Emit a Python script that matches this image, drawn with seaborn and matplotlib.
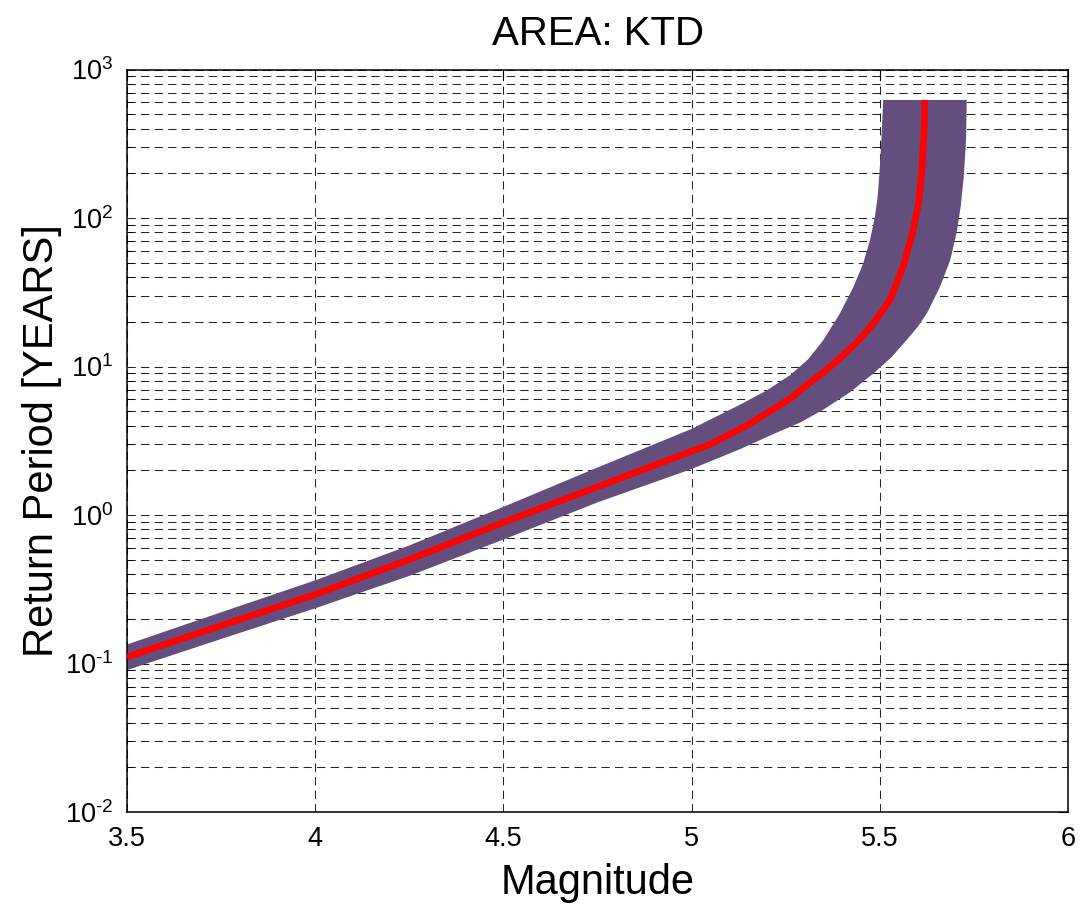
import numpy as np
import pandas as pd
import matplotlib
matplotlib.use("Agg")
import matplotlib.pyplot as plt
import seaborn as sns
from matplotlib.ticker import LogLocator, FixedLocator, FuncFormatter

# ---- data ----
title = "AREA: KTD"
x_label = "Magnitude"
y_label = "Return Period [YEARS]"
x_ticks = [3.5, 4, 4.5, 5, 5.5, 6]
x_tick_labels = ["3.5", "4", "4.5", "5", "5.5", "6"]

# central curve (red): magnitude, log10(return period)
mean_mag = [3.50, 3.75, 4.00, 4.25, 4.50, 4.75, 4.88, 5.05, 5.146, 5.208, 5.26,
            5.306, 5.35, 5.394, 5.44, 5.483, 5.527, 5.562, 5.587, 5.603, 5.611,
            5.617, 5.620]
mean_logT = [-0.956, -0.745, -0.535, -0.30, -0.05, 0.19, 0.315, 0.477, 0.602,
             0.699, 0.78, 0.875, 0.96, 1.055, 1.165, 1.29, 1.448, 1.672, 1.90,
             2.10, 2.30, 2.55, 2.795]

# uncertainty band (purple): upper-left edge
band_hi_mag = [3.50, 3.75, 4.00, 4.25, 4.50, 4.75, 5.00, 5.13, 5.20, 5.262, 5.31,
               5.350, 5.394, 5.430, 5.456, 5.474, 5.487, 5.494, 5.499, 5.504, 5.509]
band_hi_logT = [-0.872, -0.655, -0.440, -0.205, 0.055, 0.320, 0.580, 0.745, 0.840,
                0.943, 1.050, 1.178, 1.358, 1.537, 1.695, 1.852, 2.009, 2.140,
                2.300, 2.520, 2.795]
# uncertainty band: lower-right edge
band_lo_mag = [3.50, 3.75, 4.00, 4.25, 4.50, 4.75, 5.00, 5.13, 5.217, 5.29, 5.350,
               5.42, 5.483, 5.53, 5.571, 5.60, 5.625, 5.660, 5.687, 5.704, 5.715,
               5.723, 5.729, 5.731]
band_lo_logT = [-1.044, -0.835, -0.628, -0.410, -0.165, 0.085, 0.310, 0.445, 0.545,
                0.625, 0.710, 0.825, 0.954, 1.060, 1.178, 1.265, 1.358, 1.537,
                1.717, 1.900, 2.080, 2.280, 2.520, 2.795]

mean_df = pd.DataFrame({"Magnitude": mean_mag,
                        "ReturnPeriod": np.power(10.0, mean_logT)})

# ---- style ----
sns.set_theme(style="white")
plt.rcParams["font.family"] = ["Liberation Sans", "DejaVu Sans"]
plt.rcParams["mathtext.fontset"] = "custom"
plt.rcParams["mathtext.rm"] = "Liberation Sans"
plt.rcParams["mathtext.it"] = "Liberation Sans:italic"
plt.rcParams["mathtext.bf"] = "Liberation Sans:bold"
plt.rcParams["text.color"] = "black"
plt.rcParams["axes.labelcolor"] = "black"
plt.rcParams["xtick.color"] = "black"
plt.rcParams["ytick.color"] = "black"

fig = plt.figure(figsize=(10.81, 9.09), dpi=100)
ax = fig.add_axes([0.1175, 0.1067, 0.8705, 0.8168])

band_color = "#634e7e"
poly_x = band_hi_mag + band_lo_mag[::-1]
poly_y = list(np.power(10.0, band_hi_logT)) + list(np.power(10.0, band_lo_logT))[::-1]
ax.fill(poly_x, poly_y, color=band_color, lw=0, zorder=2)

sns.lineplot(data=mean_df, x="Magnitude", y="ReturnPeriod", ax=ax,
             color="#ff0000", linewidth=4.8, estimator=None, sort=False, zorder=3,
             solid_capstyle="butt", solid_joinstyle="round")

ax.set_yscale("log")
ax.set_xlim(3.5, 6)
ax.set_ylim(1e-2, 1e3)

ax.xaxis.set_major_locator(FixedLocator(x_ticks))
ax.set_xticklabels(x_tick_labels)
ax.yaxis.set_major_locator(LogLocator(base=10, numticks=10))
ax.yaxis.set_minor_locator(LogLocator(base=10, subs=np.arange(2, 10), numticks=20))


def pow_fmt(v, pos):
    e = int(round(np.log10(v)))
    return r"$\mathdefault{10^{\text{%d}}}$" % e


ax.yaxis.set_major_formatter(FuncFormatter(pow_fmt))

grid_kw = dict(color="black", linestyle=(0, (8, 5)), linewidth=0.75, alpha=0.85)
ax.grid(True, which="major", axis="both", **grid_kw)
ax.grid(True, which="minor", axis="y", **grid_kw)
ax.set_axisbelow(True)

ax.tick_params(axis="both", which="major", direction="in", length=7, width=0.8,
               labelsize=19.5, top=True, right=True, color="black")
ax.tick_params(axis="x", which="major", pad=10)
ax.tick_params(axis="y", which="major", pad=10)
ax.tick_params(axis="y", which="minor", direction="in", length=4, width=0.6,
               left=True, right=True, color="black")
for s in ax.spines.values():
    s.set_visible(True)
    s.set_color("black")
    s.set_linewidth(1.1)

ax.set_title(title, fontsize=29, pad=18, color="black")
ax.set_xlabel(x_label, fontsize=30, labelpad=8, color="black")
ax.set_ylabel(y_label, fontsize=30, labelpad=2, color="black")

fig.savefig("out.png", dpi=100, facecolor="white")
